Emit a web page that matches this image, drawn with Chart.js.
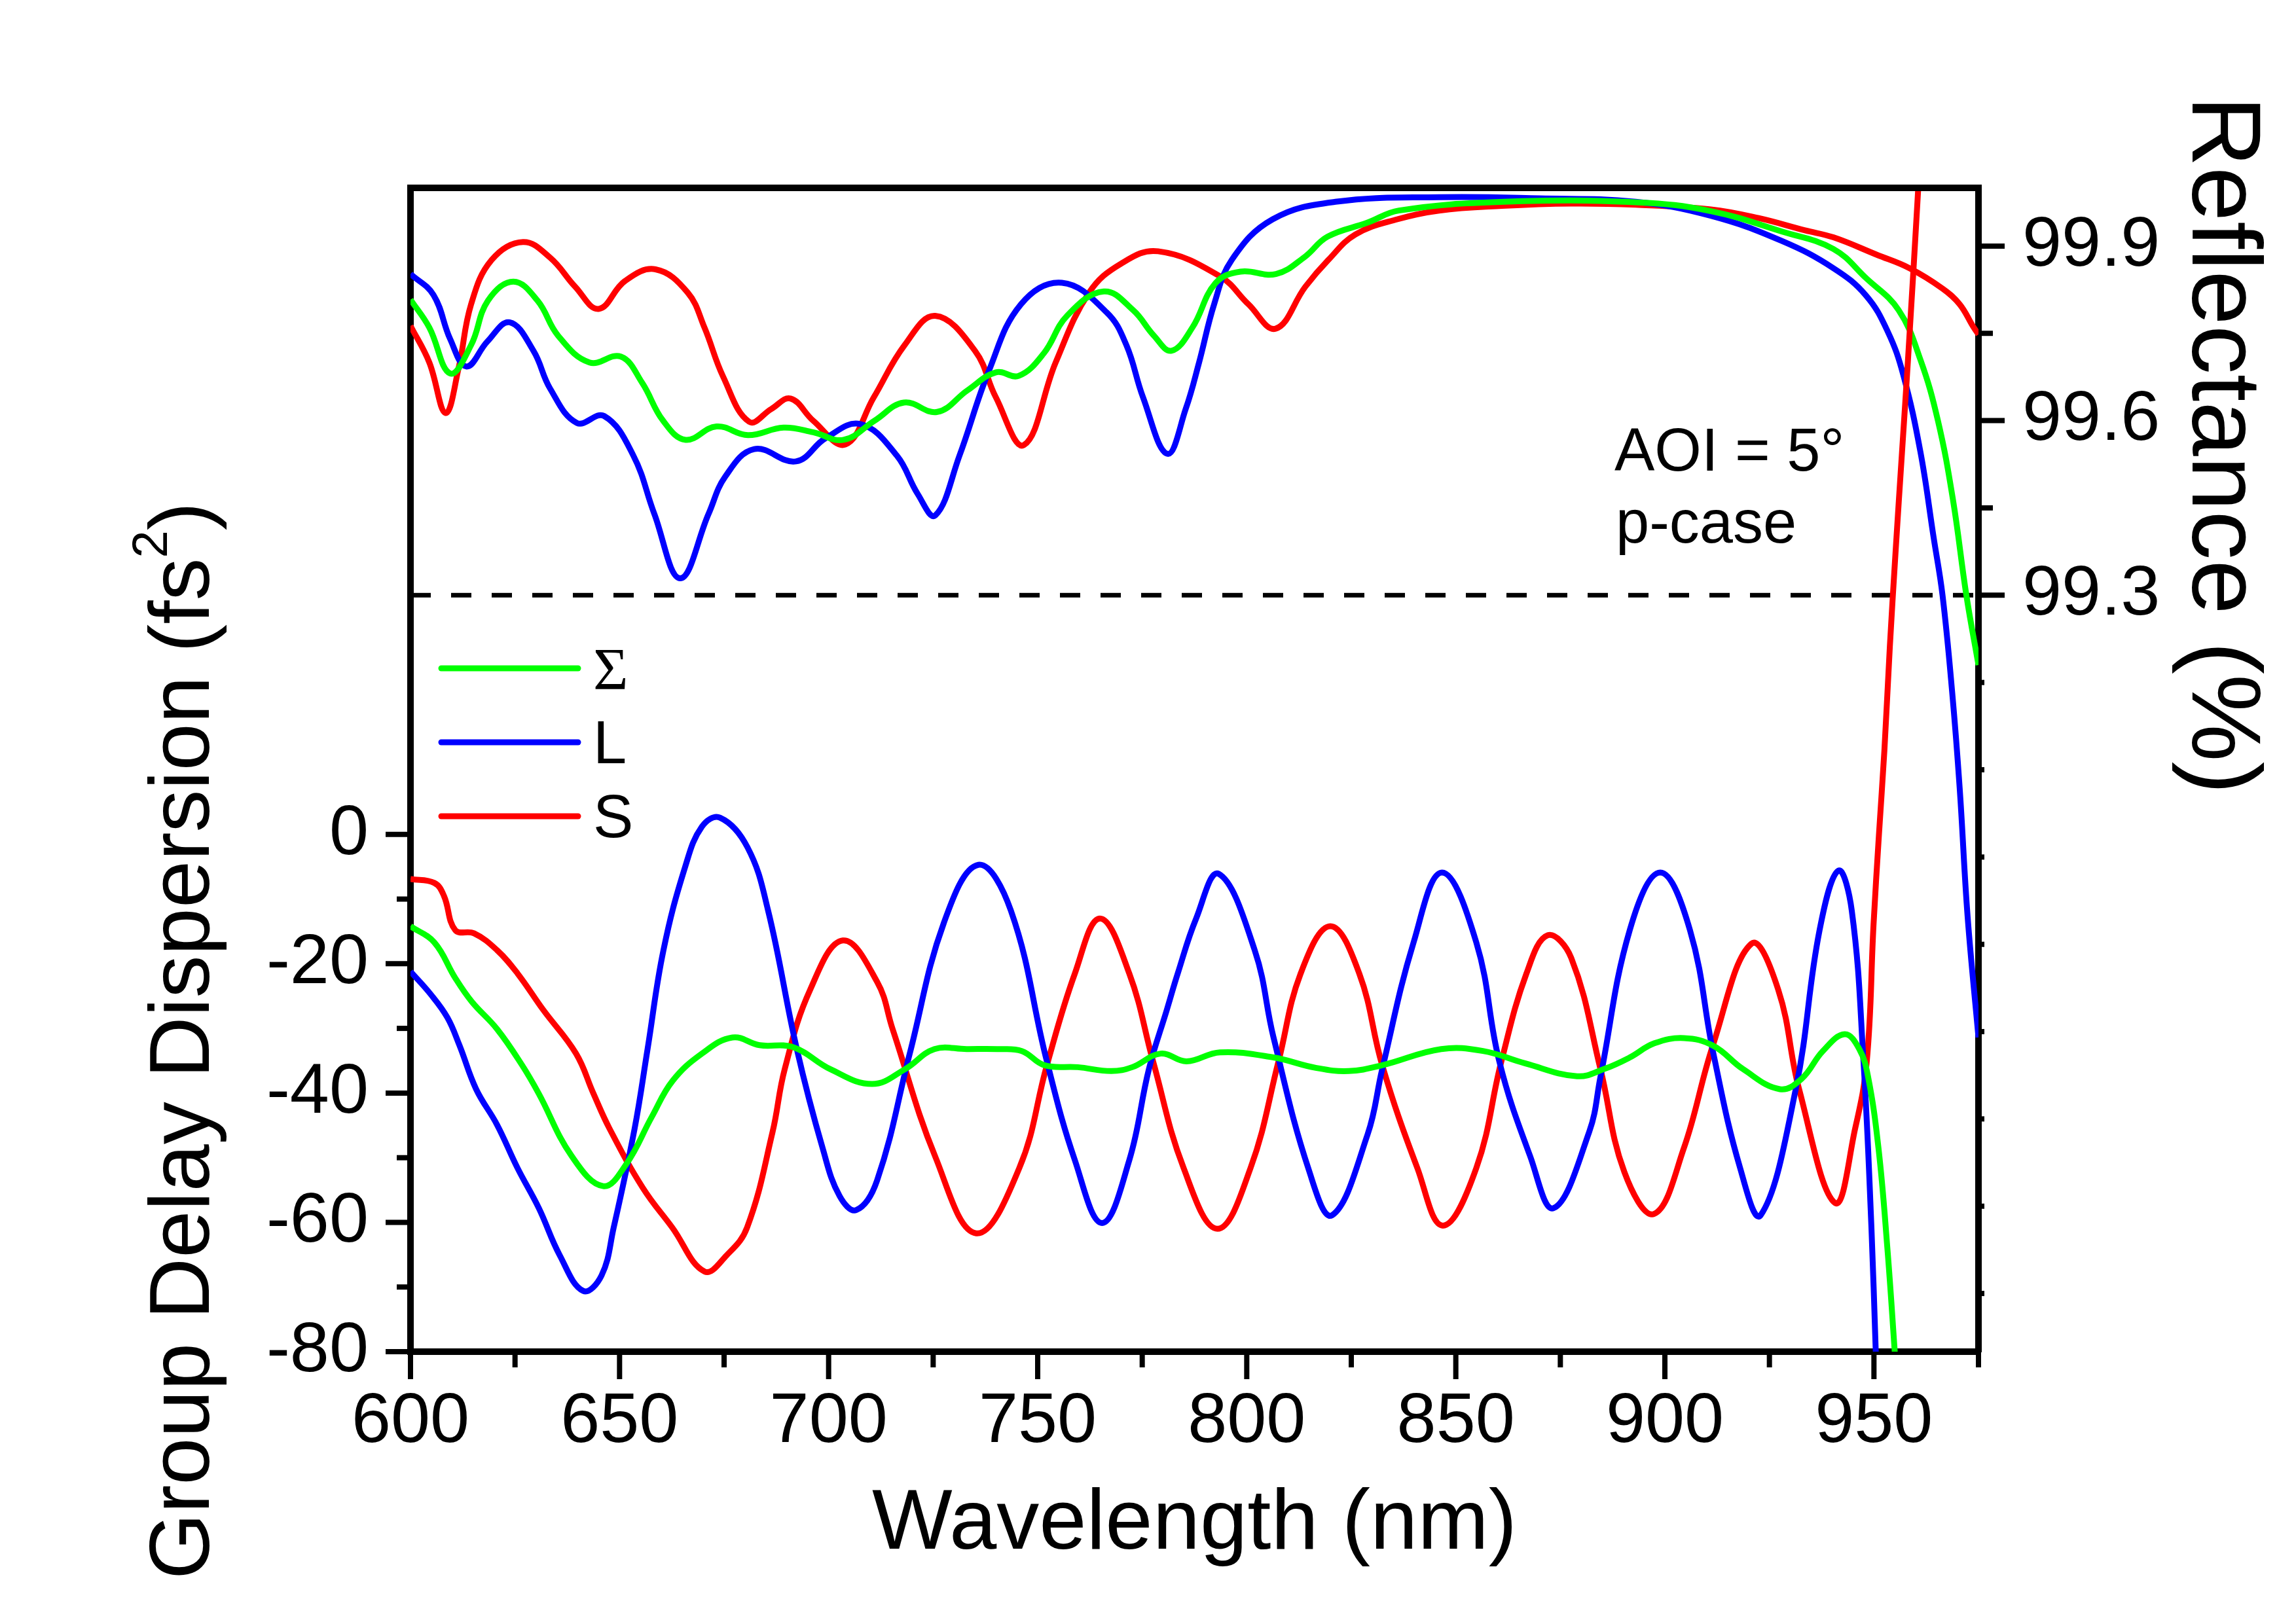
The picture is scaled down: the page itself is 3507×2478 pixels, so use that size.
<!DOCTYPE html>
<html>
<head>
<meta charset="utf-8">
<title>GDD e refletancia</title>
<script src="https://cdn.jsdelivr.net/npm/chart.js@4.4.0/dist/chart.umd.min.js"></script>
<style>
    html, body { margin: 0; padding: 0; background: #fff; }
    canvas { display: block; }
</style>
</head>
<body>
<canvas id="grafico" width="3507" height="2478"></canvas>
<script>
// GDD (fs^2) - soma, espelho L, espelho S
const gddSomaNm = [600, 605.7, 610.7, 614.7, 620.7, 626.7, 630.6, 638.6, 646.1, 651.6, 657.7, 662.7, 669.7, 677, 683.5, 691.5, 700.4, 710.4, 718.3, 725.3, 733, 740.3, 746.2, 751.6, 759.6, 767.6, 772.6, 779.4, 785.6, 793.6, 806.4, 816.5, 824.4, 832.4, 846.5, 856.5, 866.5, 879, 885.4, 891.6, 897.5, 904.6, 911.6, 918.7, 927.5, 932.7, 937.8, 943, 946.5, 948.6, 951.1, 953.2, 954.9, 956];
const gddSoma = [-14.2, -16.7, -22.2, -25.9, -30.1, -35.7, -40, -49.8, -54.4, -51, -43.7, -38.1, -33.9, -31.4, -32.6, -32.9, -36.3, -38.6, -36.3, -33.2, -33.2, -33.2, -33.5, -35.7, -36, -36.6, -36, -33.9, -35.1, -33.7, -34.5, -36.1, -36.6, -35.7, -33.2, -33.5, -35.4, -37.4, -36.3, -34.5, -32.3, -31.5, -32.7, -36.3, -39.4, -37.8, -33.5, -30.9, -33.2, -37.5, -48.6, -63.9, -79.3, -90];

const gddLNm = [600, 604.8, 608.8, 611.7, 615.7, 620.7, 625.6, 630.7, 635.7, 641.3, 645.7, 648.6, 653.6, 656.7, 660.5, 665.7, 669.7, 674, 680.6, 685.5, 692.4, 698.6, 702.6, 706.6, 711.6, 719.4, 727.6, 735.8, 743.6, 752.2, 758.9, 765.4, 771.9, 776.6, 780.9, 783.5, 787.9, 793.3, 801.9, 806.4, 814.9, 820.4, 828.9, 832.4, 839.9, 846.7, 854.9, 860.4, 867.8, 873.4, 881.9, 884.6, 891.6, 898.9, 906, 911.6, 918, 922.9, 931.3, 937, 941.5, 944.7, 947.5, 949.4, 950.4, 951.3];
const gddL = [-21.2, -24.7, -28.3, -32.6, -39.4, -44.9, -51.6, -57.8, -65.1, -70.6, -68.2, -60.8, -45.5, -33.2, -17.9, -5, 1.2, 2.6, -2, -11.7, -33.2, -48.6, -55.9, -58.1, -53.5, -33.9, -13.6, -4.7, -11.8, -35.1, -50.4, -60.1, -50.4, -36.3, -27.1, -21.5, -13, -6.1, -17.9, -31.4, -52, -58.9, -46.4, -36.3, -16.7, -5.9, -16.7, -35.1, -49.8, -57.8, -46, -37.5, -14.8, -5.9, -14.8, -33.9, -51.6, -58.9, -39.4, -14.8, -5.6, -11.8, -35.1, -60.8, -79.3, -95];

const gddSNm = [600, 605.7, 608, 610.7, 615.2, 620.7, 625.6, 631.7, 639.6, 643.7, 647.6, 655.6, 662.6, 670.3, 675.6, 680.5, 686.6, 689.5, 695.6, 703.4, 711.6, 715.3, 725.6, 735.3, 745.6, 752.2, 758.9, 764.9, 771.9, 777.6, 784.9, 793, 800.9, 807.6, 812.9, 820, 826.9, 832.4, 840.8, 846.9, 854.9, 860.9, 866.9, 872, 877.6, 884.6, 890.3, 897.4, 904.5, 911.5, 920.7, 927.1, 932.1, 940.7, 945.5, 948.3, 949.9, 951.2, 952.5, 953.8, 955.2, 956.7, 958.2, 960.6, 962.5];
const gddS = [-6.9, -7.5, -9.5, -14.8, -15.3, -17.9, -21.5, -27.1, -33.9, -40, -45.5, -54.7, -60.8, -67.6, -65.1, -60.8, -46, -36.3, -24, -16.4, -22.8, -30.1, -50, -61.7, -51.6, -35.7, -21.5, -13, -21.5, -35.1, -51.6, -61, -51.6, -35.1, -21.5, -14.2, -21.5, -35.7, -51.6, -60.5, -51.6, -35.1, -21.5, -15.6, -19.1, -36.3, -52.2, -58.7, -48.6, -32.6, -16.9, -24, -39.4, -57, -45.5, -35, -14, 0, 13, 29, 44, 59, 74, 100, 122];

// Refletancia (%)
const reflSomaNm = [600, 604.5, 609.5, 614.5, 618.5, 624.6, 630.4, 635.3, 642.8, 650.3, 655.4, 660.4, 665.8, 673.2, 680.7, 689.2, 696.3, 703.6, 711, 718, 726, 733.2, 740, 745.5, 751.5, 757, 765.8, 772.8, 777.8, 782, 787, 792.5, 798.5, 807, 813.8, 819.3, 828.8, 836.4, 861.5, 893.5, 911, 928, 940.3, 948.1, 955.9, 961.1, 965.3, 968.9, 972.1, 975];
const reflSoma = [99.808, 99.76, 99.681, 99.73, 99.806, 99.839, 99.806, 99.746, 99.7, 99.71, 99.665, 99.6, 99.567, 99.59, 99.575, 99.588, 99.58, 99.567, 99.6, 99.631, 99.615, 99.652, 99.683, 99.677, 99.716, 99.78, 99.822, 99.79, 99.746, 99.72, 99.76, 99.836, 99.856, 99.852, 99.881, 99.916, 99.94, 99.961, 99.976, 99.975, 99.96, 99.925, 99.895, 99.845, 99.79, 99.705, 99.6, 99.464, 99.3, 99.18];

const reflLNm = [600, 605.5, 609.5, 613.4, 618.4, 623.7, 629.4, 633.4, 639.8, 646.3, 653.3, 658.3, 664.5, 671.3, 675.3, 682.2, 692.2, 699.3, 707.6, 716.3, 721.3, 725.5, 731.3, 738.3, 746, 755.8, 766.5, 771.2, 775.2, 781, 785.4, 788.6, 792.2, 796.4, 806.2, 821.2, 846.2, 870, 893, 911, 927.9, 940.3, 948.1, 953.3, 957, 961.1, 964.3, 966.4, 968.7, 970.5, 972.4, 975];
const reflL = [99.852, 99.816, 99.74, 99.693, 99.736, 99.769, 99.72, 99.655, 99.596, 99.608, 99.54, 99.44, 99.329, 99.44, 99.504, 99.551, 99.53, 99.57, 99.594, 99.54, 99.474, 99.437, 99.54, 99.685, 99.8, 99.837, 99.786, 99.73, 99.64, 99.543, 99.62, 99.7, 99.8, 99.876, 99.946, 99.976, 99.984, 99.982, 99.976, 99.952, 99.909, 99.862, 99.815, 99.753, 99.679, 99.547, 99.398, 99.3, 99.134, 98.969, 98.748, 98.54];

const reflSNm = [600, 604.5, 608.4, 611.5, 614.5, 619.4, 626.9, 633.4, 639.4, 645, 651.3, 658.6, 666.3, 670.3, 674.8, 681, 686.3, 690.9, 696.3, 704, 710.8, 718.2, 725.5, 735, 740, 746.7, 754.3, 762.3, 770, 778.8, 793.6, 800.4, 806.9, 814, 819.5, 826, 836, 846, 861, 877.6, 893, 911, 922.4, 933.5, 940.3, 950.7, 958.5, 966.4, 970.5, 973.7, 975];
const reflS = [99.763, 99.7, 99.613, 99.69, 99.8, 99.876, 99.907, 99.88, 99.83, 99.792, 99.84, 99.86, 99.82, 99.76, 99.675, 99.598, 99.62, 99.638, 99.6, 99.559, 99.64, 99.73, 99.78, 99.72, 99.64, 99.558, 99.7, 99.82, 99.87, 99.891, 99.848, 99.8, 99.758, 99.83, 99.876, 99.92, 99.946, 99.961, 99.969, 99.973, 99.971, 99.963, 99.948, 99.927, 99.915, 99.885, 99.862, 99.827, 99.8, 99.762, 99.748];

// limite de refletancia (linha tracejada)
const limiteNm = [600, 975];
const limiteR = [99.3, 99.3];

// marcas dos eixos
const xMaior = [600, 650, 700, 750, 800, 850, 900, 950];
const xMenor = [625, 675, 725, 775, 825, 875, 925, 975];
const gddMaior = [-80, -60, -40, -20, 0];
const gddMenor = [-70, -50, -30, -10];
const reflMaior = [99.3, 99.6, 99.9];
const reflMenor = [99.45, 99.75];
const reflResto = [98.1, 98.25, 98.4, 98.55, 98.7, 98.85, 99.0, 99.15];

const legendaNomes = ['\u03A3', 'L', 'S'];
const cores = ['#00ff00', '#0000ff', '#ff0000'];

const fonte = '"Liberation Sans", Arial, sans-serif';

function pontos(nm, valores) {
    return nm.map((x, i) => ({ x: x, y: valores[i] }));
}

function criarSerie(rotulo, nm, valores, cor, eixo) {
    return {
        label: rotulo,
        data: pontos(nm, valores),
        borderColor: cor,
        borderWidth: 9,
        pointRadius: 0,
        fill: false,
        tension: 0.4,
        yAxisID: eixo
    };
}

function traco(ctx, x1, y1, x2, y2) {
    ctx.beginPath();
    ctx.moveTo(x1, y1);
    ctx.lineTo(x2, y2);
    ctx.stroke();
}

const extras = {
    id: 'extras',
    afterDraw(chart) {
        const ctx = chart.ctx;
        const area = chart.chartArea;
        const sx = chart.scales.x;
        const sg = chart.scales.yGdd;
        const sr = chart.scales.yRefl;

        ctx.save();
        ctx.strokeStyle = '#000';
        ctx.lineWidth = 10;
        traco(ctx, area.left - 5, area.top, area.right + 5, area.top);

        ctx.lineWidth = 8;
        xMaior.forEach(v => { const p = sx.getPixelForValue(v); traco(ctx, p, area.bottom, p, area.bottom + 42); });
        xMenor.forEach(v => { const p = sx.getPixelForValue(v); traco(ctx, p, area.bottom, p, area.bottom + 24); });
        gddMaior.forEach(v => { const p = sg.getPixelForValue(v); traco(ctx, area.left, p, area.left - 38, p); });
        gddMenor.forEach(v => { const p = sg.getPixelForValue(v); traco(ctx, area.left, p, area.left - 21, p); });
        reflMaior.forEach(v => { const p = sr.getPixelForValue(v); traco(ctx, area.right, p, area.right + 40, p); });
        reflMenor.forEach(v => { const p = sr.getPixelForValue(v); traco(ctx, area.right, p, area.right + 22, p); });
        reflResto.forEach(v => { const p = sr.getPixelForValue(v); traco(ctx, area.right, p, area.right + 9, p); });

        // legenda
        ctx.lineCap = 'round';
        ctx.lineWidth = 9;
        legendaNomes.forEach((nome, i) => {
            const y = area.top + 734 + i * 113;
            ctx.strokeStyle = cores[i];
            traco(ctx, area.left + 47, y, area.left + 256, y);
            ctx.fillStyle = '#000';
            ctx.textAlign = 'left';
            ctx.textBaseline = 'alphabetic';
            ctx.font = i === 0 ? '92px "Liberation Serif", serif' : '92px ' + fonte;
            ctx.fillText(nome, area.left + 279, y + 32);
        });

        // anotacao
        ctx.fillStyle = '#000';
        ctx.font = '92px ' + fonte;
        ctx.fillText('AOI = 5\u00B0', area.left + 1839, area.top + 432);
        ctx.fillText('p-case', area.left + 1841, area.top + 542);

        // titulo x
        ctx.font = '130px ' + fonte;
        ctx.textAlign = 'center';
        ctx.fillText('Wavelength (nm)', (area.left + area.right) / 2, area.bottom + 301);

        // titulo esquerdo com expoente
        const parte1 = 'Group Delay Dispersion (fs';
        const w1 = ctx.measureText(parte1).width;
        const w3 = ctx.measureText(')').width;
        ctx.font = '76px ' + fonte;
        const w2 = ctx.measureText('2').width;
        const x0 = -(w1 + w2 + w3) / 2;
        ctx.save();
        ctx.translate(area.left - 308, area.top + 1303);
        ctx.rotate(-Math.PI / 2);
        ctx.textAlign = 'left';
        ctx.font = '130px ' + fonte;
        ctx.fillText(parte1, x0, 0);
        ctx.font = '76px ' + fonte;
        ctx.fillText('2', x0 + w1, -64);
        ctx.font = '130px ' + fonte;
        ctx.fillText(')', x0 + w1 + w2, 0);
        ctx.restore();

        // titulo direito
        ctx.save();
        ctx.translate(area.right + 327, area.top + 393);
        ctx.rotate(Math.PI / 2);
        ctx.textAlign = 'center';
        ctx.font = '150px ' + fonte;
        ctx.fillText('Reflectance (%)', 0, 0);
        ctx.restore();

        ctx.restore();
    }
};

const marcasFonte = { family: 'Liberation Sans', size: 108 };

const grafico = new Chart(document.getElementById('grafico'), {
    type: 'line',
    data: {
        datasets: [
            criarSerie('\u03A3', gddSomaNm, gddSoma, cores[0], 'yGdd'),
            criarSerie('L', gddLNm, gddL, cores[1], 'yGdd'),
            criarSerie('S', gddSNm, gddS, cores[2], 'yGdd'),
            criarSerie('\u03A3 R', reflSomaNm, reflSoma, cores[0], 'yRefl'),
            criarSerie('L R', reflLNm, reflL, cores[1], 'yRefl'),
            criarSerie('S R', reflSNm, reflS, cores[2], 'yRefl'),
            {
                label: '99.3',
                data: pontos(limiteNm, limiteR),
                borderColor: '#000',
                borderWidth: 7,
                borderDash: [31, 31],
                pointRadius: 0,
                yAxisID: 'yRefl'
            }
        ]
    },
    options: {
        responsive: false,
        animation: false,
        devicePixelRatio: 1,
        layout: { padding: { top: 287, left: 0, right: 0, bottom: 0 } },
        plugins: {
            legend: { display: false },
            tooltip: { enabled: false }
        },
        scales: {
            x: {
                type: 'linear',
                position: 'bottom',
                min: 600,
                max: 975,
                z: 1,
                afterFit: s => { s.height = 413; },
                afterBuildTicks: s => { s.ticks = xMaior.map(v => ({ value: v })); },
                grid: { display: false, drawTicks: false },
                border: { display: true, width: 10, color: '#000' },
                ticks: {
                    autoSkip: false,
                    maxRotation: 0,
                    padding: 43,
                    color: '#000',
                    font: marcasFonte,
                    callback: v => String(v)
                }
            },
            yGdd: {
                type: 'linear',
                position: 'left',
                min: -80,
                max: 100,
                z: 1,
                afterFit: s => { s.width = 627; },
                afterBuildTicks: s => { s.ticks = gddMaior.map(v => ({ value: v })); },
                grid: { display: false, drawTicks: false },
                border: { display: true, width: 10, color: '#000' },
                ticks: {
                    autoSkip: false,
                    padding: 64,
                    color: '#000',
                    font: marcasFonte,
                    callback: v => String(v)
                }
            },
            yRefl: {
                type: 'linear',
                position: 'right',
                min: 98,
                max: 100,
                z: 1,
                afterFit: s => { s.width = 485; },
                afterBuildTicks: s => { s.ticks = reflMaior.map(v => ({ value: v })); },
                grid: { display: false, drawTicks: false },
                border: { display: true, width: 10, color: '#000' },
                ticks: {
                    autoSkip: false,
                    padding: 67,
                    color: '#000',
                    font: marcasFonte,
                    callback: v => v.toFixed(1)
                }
            }
        }
    },
    plugins: [extras]
});
</script>
</body>
</html>
